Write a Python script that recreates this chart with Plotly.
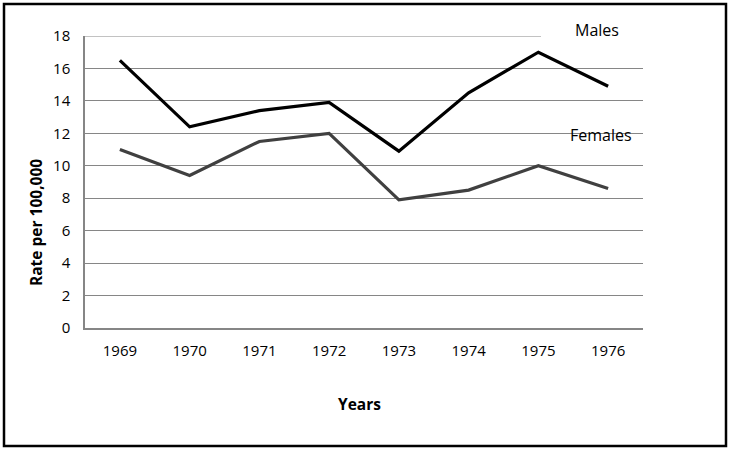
import plotly.graph_objects as go

years = ["1969", "1970", "1971", "1972", "1973", "1974", "1975", "1976"]
males = [16.5, 12.4, 13.4, 13.9, 10.9, 14.5, 17.0, 14.9]
females = [11.0, 9.4, 11.5, 12.0, 7.9, 8.5, 10.0, 8.6]
y_ticks = [0, 2, 4, 6, 8, 10, 12, 14, 16, 18]

W, H = 729, 449
L, R, T, B = 85, 86, 36, 121
pw, ph = W - L - R, H - T - B
FONT = "Open Sans, Noto Sans, sans-serif"
GRID = "#868686"

def px(x):
    return (x - L) / pw

def py(y):
    return (H - B - y) / ph

fig = go.Figure()
fig.add_trace(go.Scatter(x=years, y=males, mode="lines", name="Males",
                         line=dict(color="#000000", width=3.2)))
fig.add_trace(go.Scatter(x=years, y=females, mode="lines", name="Females",
                         line=dict(color="#404040", width=3.2)))

fig.update_layout(
    width=W, height=H,
    margin=dict(l=L, r=R, t=T, b=B),
    paper_bgcolor="white", plot_bgcolor="white",
    showlegend=False,
    font=dict(family=FONT, size=15, color="#000000"),
    xaxis=dict(type="category", range=[-0.5, 7.5], showgrid=False,
               showline=True, linecolor=GRID, linewidth=1.5,
               ticks="", ticklabelstandoff=8, tickfont=dict(size=15),
               fixedrange=True),
    yaxis=dict(range=[0, y_ticks[-1]], tickvals=y_ticks, showgrid=True,
               gridcolor=GRID, gridwidth=1.2, showline=True,
               linecolor=GRID, linewidth=1.5, zeroline=False,
               ticks="", ticklabelstandoff=10, tickfont=dict(size=15),
               fixedrange=True, automargin=False),
    shapes=[
        # top gridline (plotly skips the one sitting on the range edge)
        dict(type="line", xref="paper", yref="y", layer="between",
             x0=0, x1=1, y0=y_ticks[-1], y1=y_ticks[-1],
             line=dict(color=GRID, width=1.2)),
        # white boxes cutting the gridlines behind the labels
        dict(type="rect", xref="paper", yref="paper", layer="between",
             x0=px(541), x1=px(650), y0=py(20), y1=py(44),
             fillcolor="white", line=dict(width=0)),
        dict(type="rect", xref="paper", yref="paper", layer="between",
             x0=px(546), x1=px(650), y0=py(122), y1=py(146),
             fillcolor="white", line=dict(width=0)),
        # outer border
        dict(type="rect", xref="paper", yref="paper",
             x0=px(4), x1=px(726), y0=py(446), y1=py(4),
             line=dict(color="#000000", width=2.5)),
    ],
    annotations=[
        dict(text="Males", xref="paper", yref="paper", x=px(597), y=py(30),
             xanchor="center", yanchor="middle",
             showarrow=False, font=dict(size=16)),
        dict(text="Females", xref="paper", yref="paper", x=px(601), y=py(135),
             xanchor="center", yanchor="middle",
             showarrow=False, font=dict(size=16)),
        dict(text="<b>Rate per 100,000</b>", xref="paper", yref="paper",
             x=px(36), y=py(223), textangle=-90, showarrow=False,
             xanchor="center", yanchor="middle",
             font=dict(size=15.5)),
        dict(text="<b>Years</b>", xref="paper", yref="paper",
             x=px(359), y=py(404), showarrow=False,
             xanchor="center", yanchor="middle",
             font=dict(size=15.5)),
    ],
)

fig.write_html("out.html", config={"displayModeBar": False},
               post_script="document.body.style.margin='0px';")
